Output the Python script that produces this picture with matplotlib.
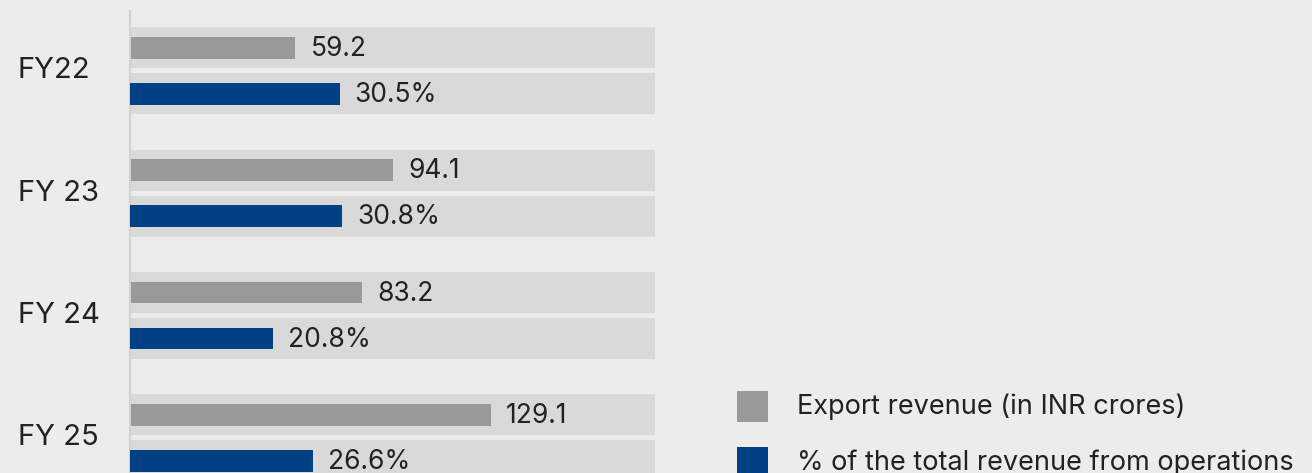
import matplotlib.pyplot as plt
from matplotlib.patches import Rectangle
from matplotlib.transforms import blended_transform_factory

years = ["FY22", "FY 23", "FY 24", "FY 25"]
export_rev = [59.2, 94.1, 83.2, 129.1]      # INR crores
share_pct = [30.5, 30.8, 20.8, 26.6]        # % of revenue from operations
legend_labels = ["Export revenue (in INR crores)", "% of the total revenue from operations"]

BG = "#ececec"
TRACK = "#d9d9d9"
GRAY = "#999999"
BLUE = "#004085"
TXT = "#222222"

plt.rcParams["font.family"] = ["Inter", "DejaVu Sans"]

W, H = 1312, 473
fig = plt.figure(figsize=(W / 100, H / 100), dpi=100, facecolor=BG)
ax = fig.add_axes([130 / W, 0, 525 / W, 1])
ax.set_facecolor(BG)
ax2 = ax.twiny()

# each series has its own scale, tracks fill the full width
gray_max, blue_max = 188, 76.4
ax.set_xlim(0, gray_max)
ax2.set_xlim(0, blue_max)
ax.set_ylim(3.286, -0.578)

off = 0.188
ys = list(range(len(years)))
y_gray = [y - off for y in ys]
y_blue = [y + off for y in ys]

ax.barh(y_gray, [gray_max] * len(ys), height=0.335, color=TRACK, zorder=1)
ax.barh(y_blue, [gray_max] * len(ys), height=0.335, color=TRACK, zorder=1)
ax.barh(y_gray, export_rev, height=0.177, color=GRAY, zorder=2)
ax2.barh(y_blue, share_pct, height=0.177, color=BLUE, zorder=2)

for y, v in zip(y_gray, export_rev):
    ax.annotate(f"{v:.1f}", (v, y + 0.01), xytext=(11, 0), textcoords="offset points",
                ha="left", va="center", fontsize=19, color=TXT, zorder=3)
for y, v in zip(y_blue, share_pct):
    ax2.annotate(f"{v:.1f}%", (v, y + 0.01), xytext=(11, 0), textcoords="offset points",
                 ha="left", va="center", fontsize=19, color=TXT, zorder=3)

# category labels, left aligned near the figure edge
tr = blended_transform_factory(fig.transFigure, ax.transData)
for y, name in zip(ys, years):
    ax.text(18 / W, y, name, transform=tr, ha="left", va="center",
            fontsize=21, color=TXT)

for a in (ax, ax2):
    a.set_xticks([])
    a.set_yticks([])
    for s in a.spines.values():
        s.set_visible(False)
ax.spines["left"].set_visible(True)
ax.spines["left"].set_color("#d2d2d2")
ax.spines["left"].set_linewidth(1.5)
ax.spines["left"].set_bounds(-0.489, 3.286)

# legend drawn by hand at the lower right
for i, (lab, col) in enumerate(zip(legend_labels, [GRAY, BLUE])):
    top = 391 + 56 * i
    fig.add_artist(Rectangle((737 / W, 1 - (top + 31) / H), 31 / W, 31 / H,
                             transform=fig.transFigure, color=col, lw=0))
    fig.text(797 / W, 1 - (top + 15.5) / H, lab, ha="left", va="center",
             fontsize=19.5, color=TXT)

fig.savefig("out.png", dpi=100, facecolor=BG)
